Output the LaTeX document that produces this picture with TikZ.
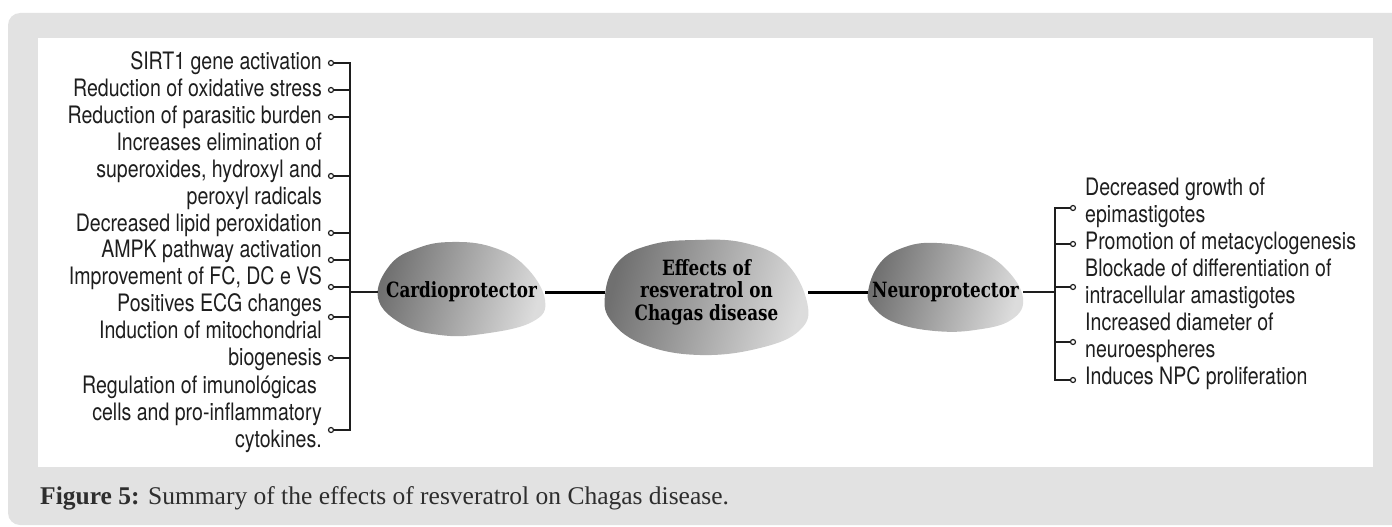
\documentclass[tikz,border=0pt]{standalone}
\usepackage{fontspec}
\setmainfont{Liberation Serif}
\newfontfamily\itemfont[FakeStretch=0.815]{TeX Gyre Heros}
\newfontfamily\blobfont[FakeStretch=0.8]{DejaVu Serif}
\definecolor{bggray}{HTML}{E2E2E2}
\definecolor{ink}{HTML}{1E1E1E}
\definecolor{capink}{HTML}{2E2E2E}
\definecolor{blobdark}{HTML}{707070}
\definecolor{bloblight}{HTML}{DCDCDC}
\tikzset{
  itemL/.style={anchor=east, inner sep=0pt, align=right, text=ink,
    font=\itemfont\fontsize{24}{27}\selectfont,
    execute at begin node=\strut, execute at end node=\strut},
  itemR/.style={itemL, anchor=west, align=left},
  dot/.style={circle, draw=ink, line width=1.2pt, fill=white, minimum size=5pt, inner sep=0pt},
  branch/.style={draw=ink, line width=1.8pt},
  trunk/.style={draw=black, line width=3pt},
  blobtxt/.style={inner sep=0pt, align=center, text=black,
    font=\blobfont\bfseries\fontsize{21}{22.5}\selectfont},
  blob/.style={left color=blobdark, right color=bloblight, shading angle=75}
}
\begin{document}
\begin{tikzpicture}[x=1pt,y=-1pt]
\useasboundingbox (0,0) rectangle (1392,527);
\fill[bggray, rounded corners=12pt] (8,13) rectangle (1420,525);
\fill[white] (38,38) rectangle (1373,467);

% blobs
\shade[blob] plot[smooth cycle, tension=0.7] coordinates {(378,298) (390,265) (418,248) (452,242) (492,247) (525,266) (545,300) (532,322) (482,334) (440,335) (402,324)};
\shade[blob] plot[smooth cycle, tension=0.7] coordinates {(605,295) (618,262) (650,245) (695,240) (745,243) (785,262) (807,302) (800,330) (760,348) (700,355) (645,345) (612,322)};
\shade[blob] plot[smooth cycle, tension=0.7] coordinates {(868,292) (880,263) (905,247) (937,243) (975,250) (1005,268) (1023,298) (1011,320) (975,330) (935,331) (896,323) (874,308)};

\node[blobtxt, minimum width=167pt] (cardio) at (461.5,292) {Cardioprotector};
\node[blobtxt, minimum width=203pt] (effects) at (706.5,292) {Effects of\\resveratrol on\\Chagas disease};
\node[blobtxt, minimum width=155pt] (neuro) at (945.5,292) {Neuroprotector};

\draw[trunk] (cardio.east) -- (effects.west);
\draw[trunk] (effects.east) -- (neuro.west);

% left branch
\coordinate (LT) at (350,63);
\node[dot] (l1) at (331,63) {};
\node[dot] (l2) at (331,90) {};
\node[dot] (l3) at (331,117) {};
\node[dot] (l4) at (331,176) {};
\node[dot] (l5) at (331,233) {};
\node[dot] (l6) at (331,260) {};
\node[dot] (l7) at (331,287) {};
\node[dot] (l8) at (331,317) {};
\node[dot] (l9) at (331,358) {};
\node[dot] (l10) at (331,430) {};
\draw[branch] (l1.east) -- (l1.east -| LT) -- (l10.east -| LT) -- (l10.east);
\foreach \i in {2,...,9} { \draw[branch] (l\i.east) -- (l\i.east -| LT); }
\draw[branch] (cardio.west) -- (cardio.west -| LT);

\node[itemL] (t1) at (322,64.5) {SIRT1 gene activation};
\node[itemL] (t2) at (322,91.5) {Reduction of oxidative stress};
\node[itemL] (t3) at (322,118.5) {Reduction of parasitic burden};
\node[itemL] (t4) at (322,172.5) {Increases elimination of\\superoxides, hydroxyl and\\peroxyl radicals};
\node[itemL] (t5) at (322,226.5) {Decreased lipid peroxidation};
\node[itemL] (t6) at (322,252.5) {AMPK pathway activation};
\node[itemL] (t7) at (322,279.5) {Improvement of FC, DC e VS};
\node[itemL] (t8) at (322,306.5) {Positives ECG changes};
\node[itemL] (t9) at (322,347) {Induction of mitochondrial\\biogenesis};
\node[itemL] (t10) at (322,415.5) {Regulation of imunológicas\hspace*{5pt}\\cells and pro-inflammatory\hspace*{5pt}\\cytokines.};

% right branch
\coordinate (RT) at (1055,208);
\node[dot] (r1) at (1073,208) {};
\node[dot] (r2) at (1073,244) {};
\node[dot] (r3) at (1073,287) {};
\node[dot] (r4) at (1073,342) {};
\node[dot] (r5) at (1073,380) {};
\draw[branch] (r1.west) -- (r1.west -| RT) -- (r5.west -| RT) -- (r5.west);
\foreach \i in {2,3,4} { \draw[branch] (r\i.west) -- (r\i.west -| RT); }
\draw[branch, line width=1.5pt] (neuro.east) -- (neuro.east -| RT);

\node[itemR] (s1) at (1085,204) {Decreased growth of\\epimastigotes};
\node[itemR] (s2) at (1085,244.5) {Promotion of metacyclogenesis};
\node[itemR] (s3) at (1085,285) {Blockade of differentiation of\\intracellular amastigotes};
\node[itemR] (s4) at (1085,339) {Increased diameter of\\neuroespheres};
\node[itemR] (s5) at (1085,379.5) {Induces NPC proliferation};

% caption
\node[anchor=base west, inner sep=0pt, text=capink, font=\fontsize{25.5}{30}\selectfont] (cap) at (40,504) {\textbf{Figure 5:} Summary of the effects of resveratrol on Chagas disease.};
\end{tikzpicture}
\end{document}
